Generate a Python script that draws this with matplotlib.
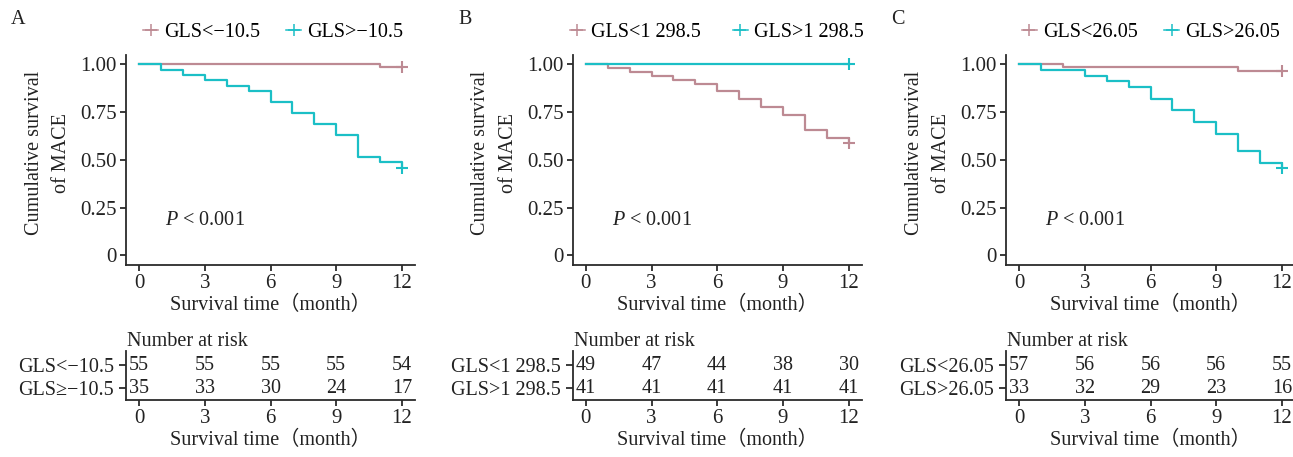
import matplotlib.pyplot as plt
from matplotlib.lines import Line2D

plt.rcParams['font.family'] = ['Liberation Serif', 'Noto Sans CJK SC']
plt.rcParams['mathtext.fontset'] = 'custom'
plt.rcParams['mathtext.it'] = 'Liberation Serif:italic'
plt.rcParams['mathtext.rm'] = 'Liberation Serif'

# 数据：每月初的累计生存率（第12个月为删失点）
months = [0, 1, 2, 3, 4, 5, 6, 7, 8, 9, 10, 11, 12]
tick_months = [0, 3, 6, 9, 12]

a_legend = ['GLS<−10.5', 'GLS>−10.5']
a_rows = ['GLS<−10.5', 'GLS≥−10.5']
a_low = [1.000, 1.000, 1.000, 1.000, 1.000, 1.000, 1.000, 1.000, 1.000, 1.000, 1.000, 0.982, 0.982]
a_high = [1.000, 0.971, 0.943, 0.914, 0.886, 0.857, 0.800, 0.743, 0.686, 0.629, 0.514, 0.486, 0.457]
a_risk_low = [55, 55, 55, 55, 54]
a_risk_high = [35, 33, 30, 24, 17]

b_legend = ['GLS<1 298.5', 'GLS>1 298.5']
b_rows = ['GLS<1 298.5', 'GLS>1 298.5']
b_low = [1.000, 0.980, 0.959, 0.939, 0.918, 0.898, 0.857, 0.816, 0.776, 0.735, 0.653, 0.612, 0.588]
b_high = [1.000, 1.000, 1.000, 1.000, 1.000, 1.000, 1.000, 1.000, 1.000, 1.000, 1.000, 1.000, 1.000]
b_risk_low = [49, 47, 44, 38, 30]
b_risk_high = [41, 41, 41, 41, 41]

c_legend = ['GLS<26.05', 'GLS>26.05']
c_rows = ['GLS<26.05', 'GLS>26.05']
c_low = [1.000, 1.000, 0.982, 0.982, 0.982, 0.982, 0.982, 0.982, 0.982, 0.982, 0.965, 0.965, 0.965]
c_high = [1.000, 0.970, 0.970, 0.939, 0.909, 0.879, 0.818, 0.758, 0.697, 0.636, 0.545, 0.485, 0.455]
c_risk_low = [57, 56, 56, 56, 55]
c_risk_high = [33, 32, 29, 23, 16]

letters = ['A', 'B', 'C']
p_text = '$P$ < 0.001'

pink = '#BD8A93'
cyan = '#1BBFC6'
dark = '#2b2b2b'
txt = '#222222'
fs = 14.5
tfs = 15

W, H = 1293, 457
fig = plt.figure(figsize=(W / 100, H / 100), dpi=100)

panels = [
    (a_legend, a_rows, a_low, a_high, a_risk_low, a_risk_high, 126, 0.059, 1.3),
    (b_legend, b_rows, b_low, b_high, b_risk_low, b_risk_high, 572.7, -0.01, 1.6),
    (c_legend, c_rows, c_low, c_high, c_risk_low, c_risk_high, 1006, 0.055, 1.3),
]


def style_axis(ax):
    for s in ['top', 'right']:
        ax.spines[s].set_visible(False)
    for s in ['left', 'bottom']:
        ax.spines[s].set_linewidth(1.3)
        ax.spines[s].set_color(dark)
    ax.tick_params(colors=dark, labelcolor=txt, width=1.3, length=4.5,
                   labelsize=tfs, pad=2)


for i, (leg, rows, low, high, r_low, r_high, left_px, leg_x, colsp) in enumerate(panels):
    # 生存曲线
    ax = fig.add_axes([left_px / W, 1 - 265 / H, 289 / W, 210 / H])
    ax.step(months, low, where='post', color=pink, lw=1.6)
    ax.step(months, high, where='post', color=cyan, lw=1.6)
    ax.plot([months[-1]], [low[-1]], marker='+', color=pink, ms=9, mew=1.5, ls='none')
    ax.plot([months[-1]], [high[-1]], marker='+', color=cyan, ms=9, mew=1.5, ls='none')
    ax.set_xlim(-0.6, 12.6)
    ax.set_ylim(-0.05, 1.047)
    ax.set_xticks(tick_months)
    ax.set_yticks([0, 0.25, 0.5, 0.75, 1.0])
    ax.set_yticklabels(['0', '0.25', '0.50', '0.75', '1.00'])
    style_axis(ax)
    ax.set_xlabel('Survival time（month）', fontsize=fs, labelpad=2, color=txt)
    ax.text(-0.27, 0.533, 'Cumulative survival\nof MACE', transform=ax.transAxes,
            rotation=90, ha='center', va='center', linespacing=1.6,
            fontsize=fs, color=txt)
    ax.text(1.2, 0.18, p_text, fontsize=fs, va='center', ha='left', color=txt)

    handles = [Line2D([], [], color=pink, marker='+', ms=9, mew=1.1, lw=1.1),
               Line2D([], [], color=cyan, marker='+', ms=9, mew=1.1, lw=1.1)]
    ax.legend(handles, leg, loc='center left', bbox_to_anchor=(leg_x, 1.105),
              ncol=2, frameon=False, fontsize=fs, handlelength=0.75,
              handletextpad=0.3, columnspacing=colsp, borderpad=0,
              borderaxespad=0)

    fig.text((left_px - 108) / W, 1 - 20 / H, letters[i], fontsize=fs,
             ha='center', va='center', color=txt)

    # 风险人数表
    rx = fig.add_axes([left_px / W, 1 - 400 / H, 289 / W, 49 / H])
    rx.set_xlim(-0.6, 12.6)
    rx.set_ylim(-0.52, 1.61)
    rx.set_xticks(tick_months)
    rx.set_yticks([1, 0])
    rx.set_yticklabels(rows)
    style_axis(rx)
    rx.tick_params(axis='y', labelsize=fs, length=5, pad=3.5)
    for t, v1, v2 in zip(tick_months, r_low, r_high):
        rx.text(t, 1, str(v1), ha='center', va='center', fontsize=fs, color=txt)
        rx.text(t, 0, str(v2), ha='center', va='center', fontsize=fs, color=txt)
    rx.text(0.005, 1.2, 'Number at risk', transform=rx.transAxes, ha='left',
            va='center', fontsize=fs, color=txt)
    rx.set_xlabel('Survival time（month）', fontsize=fs, labelpad=2, color=txt)

fig.savefig('out.png', dpi=100)
